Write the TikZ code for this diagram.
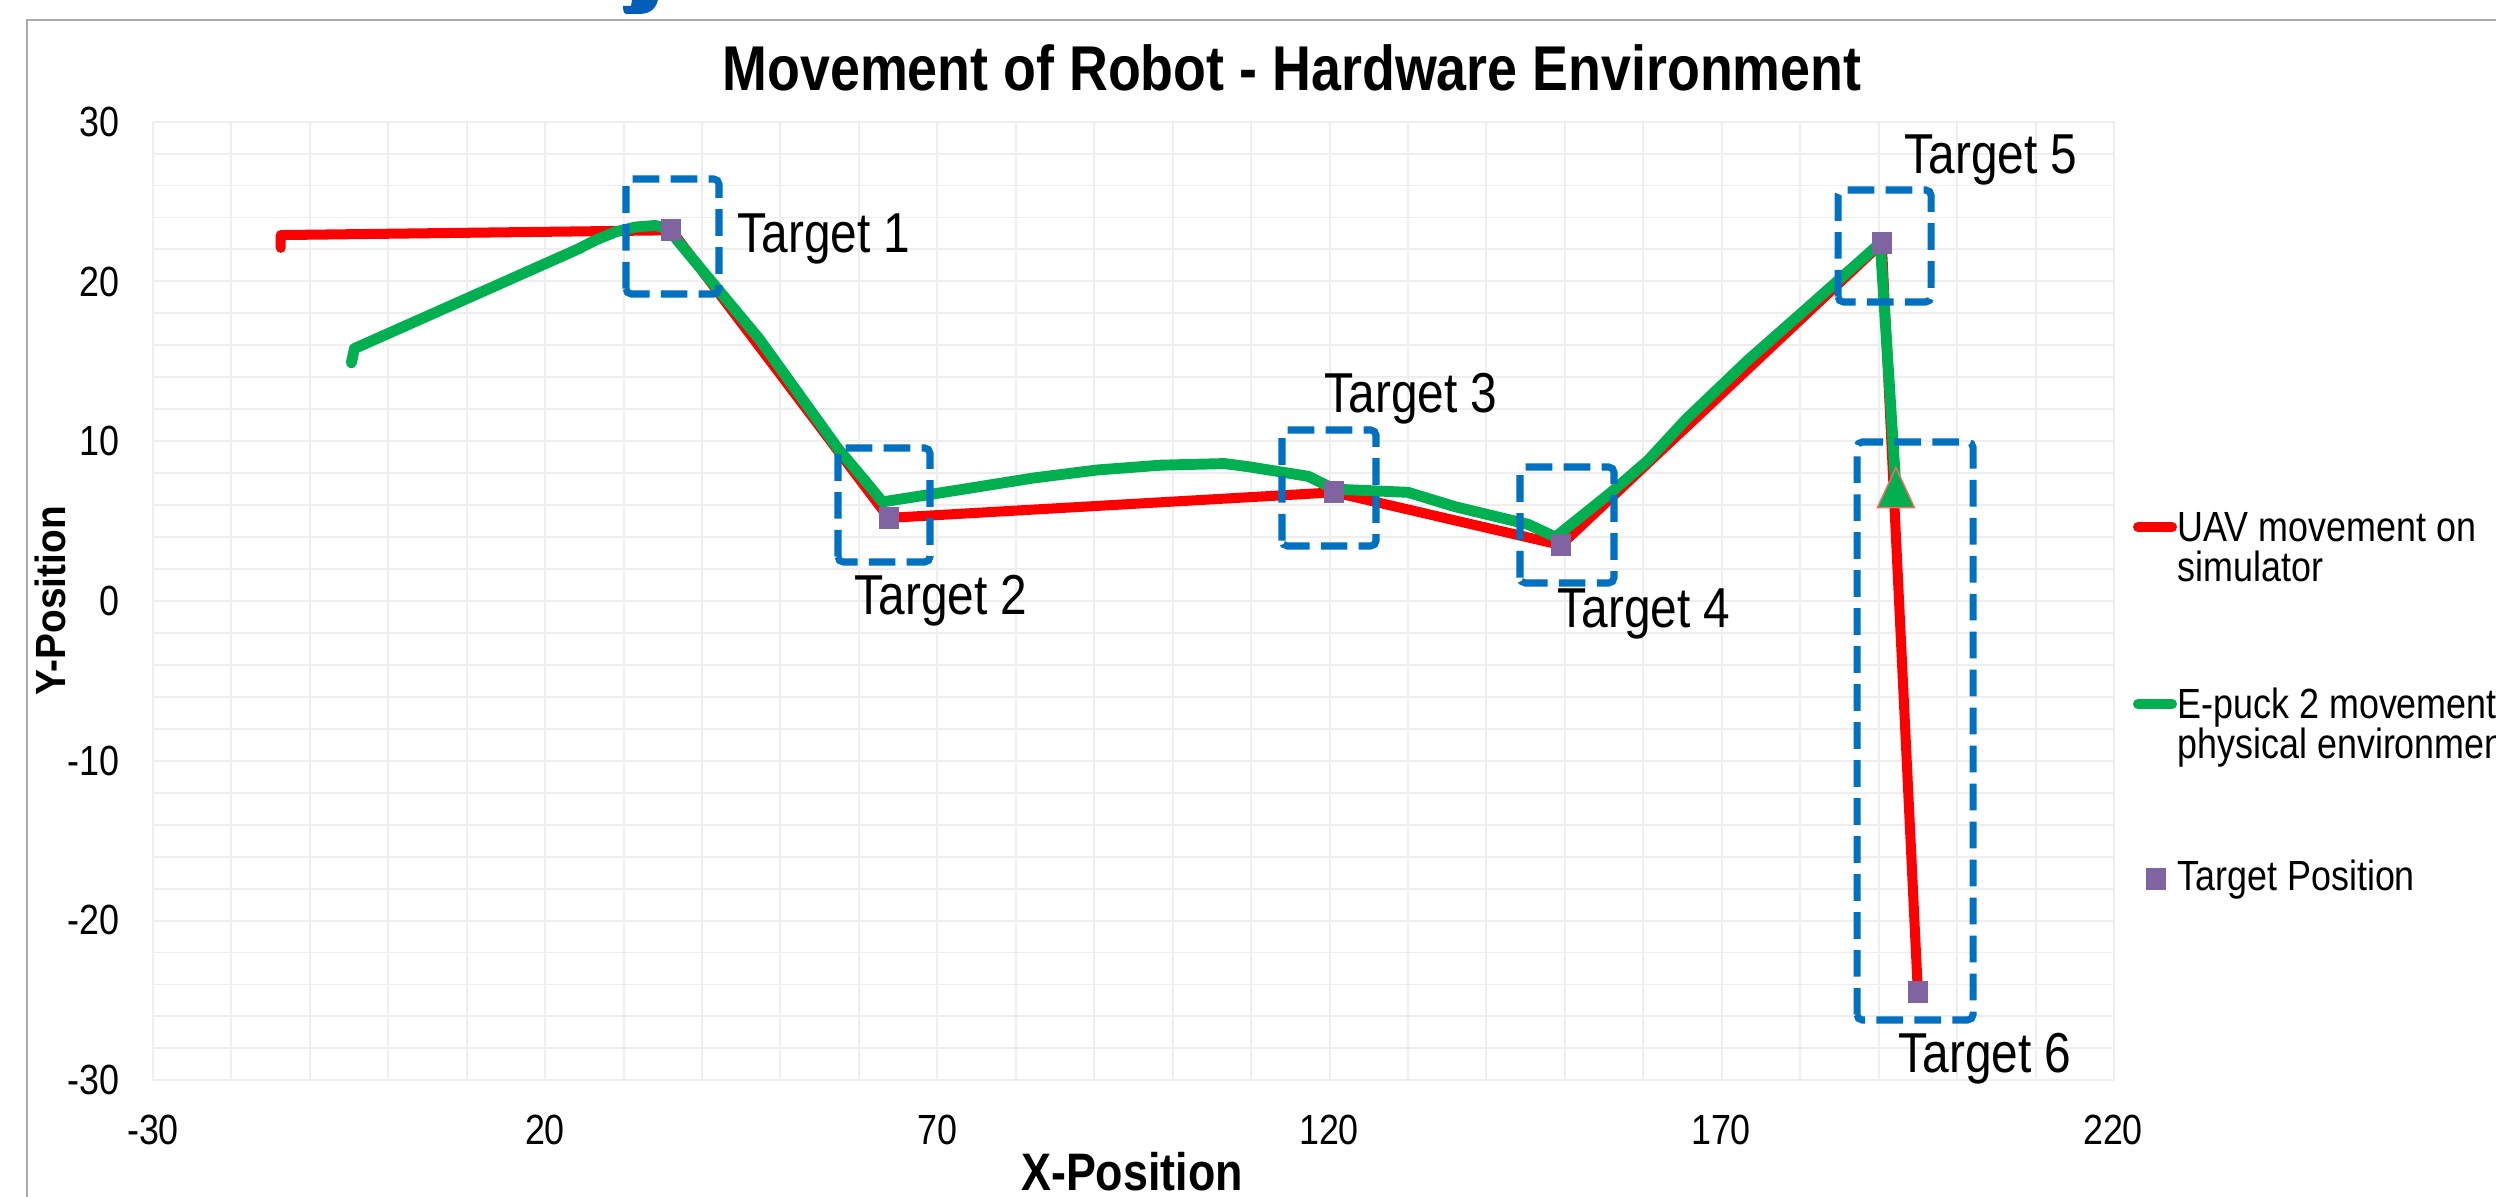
\documentclass[tikz,border=0pt]{standalone}
\usepackage{fontspec}
\setmainfont{Liberation Sans}
\newfontfamily\cf{Liberation Sans}[FakeStretch=0.85]
\newfontfamily\cfy{Liberation Sans}[FakeStretch=0.92]
\definecolor{uavred}{RGB}{255,0,0}
\definecolor{epkgreen}{RGB}{0,176,80}
\definecolor{mkpurple}{RGB}{128,100,162}
\definecolor{boxblue}{RGB}{0,112,192}
\definecolor{gridgray}{RGB}{238,238,238}
\definecolor{framegray}{RGB}{170,170,170}
\definecolor{blobblue}{RGB}{0,94,184}
\tikzset{
  tick/.style={inner sep=0pt, font=\cf\fontsize{12}{14}\selectfont},
  tgt/.style={inner sep=0pt, anchor=base west, font=\cf\fontsize{16}{19}\selectfont},
  leg/.style={inner sep=0pt, anchor=base west, font=\cf\fontsize{12}{14}\selectfont},
  mk/.style={rectangle, fill=mkpurple, minimum width=0.2cm, minimum height=0.22cm, inner sep=0pt},
  tbox/.style={draw=boxblue, line width=2pt, dash pattern=on 7.6pt off 3.2pt, rounded corners=1.5pt},
  gridl/.style={draw=gridgray, line width=0.55pt},
  uav/.style={draw=uavred, line width=2.85pt, line cap=round, line join=round},
  epk/.style={draw=epkgreen, line width=3.1pt, line cap=round, line join=round},
}
\begin{document}
\begin{tikzpicture}[x=0.01cm,y=0.01cm]
\useasboundingbox (0,0) rectangle (2496,1197);
\clip (0,0) rectangle (2496,1197);
\fill[white] (0,0) rectangle (2496,1197);
% outer frame and cropped caption glyph
\draw[framegray, line width=0.6pt] (27,-50) |- (2600,1177);
\fill[blobblue] (632,1197) -- (658,1197) .. controls (655,1186) and (648,1183) .. (638,1183) -- (626,1183) .. controls (623,1184) and (623,1188) .. (623,1191) -- (631,1191) -- cycle;
% title
\node[inner sep=0pt, anchor=base, font=\cf\bfseries\fontsize{18}{21}\selectfont] (title) at (1292,1106) {Movement of Robot - Hardware Environment};
% data area
\begin{scope}[shift={(388.2,596)}, x=0.0784cm, y=0.1597cm]
  \foreach \gx in {-30,-20,...,220} \draw[gridl] (\gx,-30) -- (\gx,30);
  \foreach \gy in {-30,-28,...,30} \draw[gridl] (-30,\gy) -- (220,\gy);
  \coordinate (p1) at (36.1,23.2);
  \coordinate (p2) at (63.8,5.2);
  \coordinate (p3) at (120.6,6.8);
  \coordinate (p4) at (149.5,3.5);
  \coordinate (p5) at (190.4,22.4);
  \coordinate (p6) at (195.0,-24.5);
  \coordinate (tri) at (192.2,7.1);
  \coordinate (rs) at (-13.7,22.1);
  \coordinate (gs) at (-4.7,14.9);
  \draw[uav] (rs) -- (-13.7,22.9) -- (p1) -- (p2) -- (p3) -- (p4) -- (p5) -- (p6);
  \draw[epk] (gs) -- (-4.3,15.8) -- (24.1,22.0) -- (26.5,22.6) -- (29.0,23.1) -- (31.5,23.4) -- (34.0,23.5) -- (35.8,23.3) -- (36.8,22.6) -- (47.3,16.4) -- (57.4,9.5) -- (61.0,7.4) -- (63.0,6.2) -- (72.1,6.9) -- (82.3,7.7) -- (90.4,8.2) -- (98.5,8.5) -- (106.6,8.6) -- (109.7,8.4) -- (117.3,7.8) -- (120.6,7.0) -- (130.0,6.8) -- (136.0,5.9) -- (145.3,4.8) -- (148.8,4.0) -- (155.9,6.8) -- (160.6,8.8) -- (165.5,11.4) -- (173.4,15.1) -- (181.5,18.6) -- (190.2,22.4) -- (tri);
  \filldraw[fill=epkgreen, draw=uavred!60, line width=0.4pt] ([xshift=-0.185cm,yshift=-0.2cm]tri) -- ([xshift=0.185cm,yshift=-0.2cm]tri) -- ([yshift=0.2cm]tri) -- cycle;
  \node[mk] (t1) at (p1) {};
  \node[mk] (t2) at (p2) {};
  \node[mk] (t3) at (p3) {};
  \node[mk] (t4) at (p4) {};
  \node[mk] (t5) at (p5) {};
  \node[mk] (t6) at (p6) {};
\end{scope}
% dashed target boxes
\draw[tbox] (626,903) rectangle (719,1018);
\draw[tbox] (838,635) rectangle (930,749);
\draw[tbox] (1282,651) rectangle (1376,767);
\draw[tbox] (1520,614) rectangle (1614,730);
\draw[tbox] (1838,895) rectangle (1931,1007);
\draw[tbox] (1857,177) rectangle (1973,755);
% target labels
\node[tgt] (lt1) at (737,944) {Target 1};
\node[tgt] (lt2) at (854,582) {Target 2};
\node[tgt] (lt3) at (1324,784) {Target 3};
\node[tgt] (lt4) at (1557,569) {Target 4};
\node[tgt] (lt5) at (1904,1023) {Target 5};
\node[tgt] (lt6) at (1898,124) {Target 6};
% y ticks
\node[tick, anchor=east] (y30) at (120,1075) {30};
\node[tick, anchor=east] (y20) at (120,915.4) {20};
\node[tick, anchor=east] (y10) at (120,755.7) {10};
\node[tick, anchor=east] (y0) at (120,596) {0};
\node[tick, anchor=east] (ym10) at (120,436.3) {-10};
\node[tick, anchor=east] (ym20) at (120,276.6) {-20};
\node[tick, anchor=east] (ym30) at (120,116.9) {-30};
% x ticks
\node[tick] (xm30) at (153,67) {-30};
\node[tick] (x20) at (545,67) {20};
\node[tick] (x70) at (937,67) {70};
\node[tick] (x120) at (1329,67) {120};
\node[tick] (x170) at (1721,67) {170};
\node[tick] (x220) at (2113,67) {220};
% axis titles
\node[inner sep=0pt, anchor=base, font=\cf\bfseries\fontsize{15}{18}\selectfont] (xt) at (1132,6) {X-Position};
\node[inner sep=0pt, anchor=base, rotate=90, font=\cfy\bfseries\fontsize{12}{14}\selectfont] (yt) at (65,596) {Y-Position};
% legend
\draw[uavred, line width=2.85pt, line cap=round] (2138,670) -- (2172,670);
\draw[epkgreen, line width=2.85pt, line cap=round] (2138,493) -- (2172,493);
\node[mk] (lgm) at (2156,318) {};
\node[leg] (lg1a) at (2177,655) {UAV movement on};
\node[leg] (lg1b) at (2177,615) {simulator};
\node[leg] (lg2a) at (2177,478) {E-puck 2 movement on};
\node[leg] (lg2b) at (2177,438) {physical environment};
\node[leg] (lg3) at (2177,306) {Target Position};
\end{tikzpicture}
\end{document}
